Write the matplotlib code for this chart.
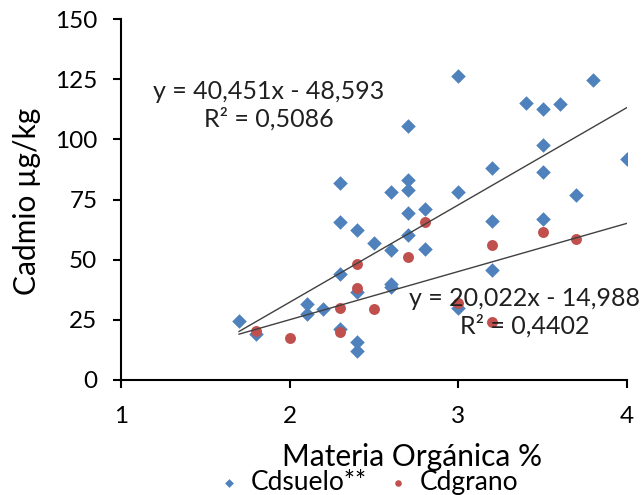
import matplotlib
matplotlib.use("Agg")
import matplotlib.pyplot as plt
import numpy as np

plt.rcParams['font.family'] = ['Lato', 'DejaVu Sans']

# Cdsuelo** (soil cadmium) vs organic matter
suelo_x = [1.7, 1.8, 2.1, 2.1, 2.2, 2.3, 2.3, 2.3, 2.3, 2.4, 2.4, 2.4, 2.4,
           2.5, 2.6, 2.6, 2.6, 2.6, 2.7, 2.7, 2.7, 2.7, 2.7, 2.8, 2.8,
           3.0, 3.0, 3.0, 3.2, 3.2, 3.2, 3.4, 3.5, 3.5, 3.5, 3.5, 3.6,
           3.7, 3.8, 4.0]
suelo_y = [24.7, 19.2, 31.7, 27.5, 29.4, 82.0, 65.5, 44.2, 21.2, 62.2, 36.4, 15.6, 12.1,
           57.0, 78.0, 54.2, 39.9, 38.8, 105.6, 83.0, 78.9, 69.2, 60.4, 71.1, 54.4,
           126.4, 78.3, 30.0, 88.2, 66.0, 45.5, 115.3, 112.8, 97.5, 86.4, 66.7, 114.6,
           76.8, 124.7, 91.7]

# Cdgrano (grain cadmium)
grano_x = [1.8, 2.0, 2.3, 2.3, 2.4, 2.4, 2.5, 2.7, 2.8, 3.0, 3.2, 3.2, 3.5, 3.7]
grano_y = [20.4, 17.4, 29.9, 19.9, 48.2, 38.2, 29.4, 51.1, 65.5, 32.2, 56.0, 23.9, 61.5, 58.6]

# trendline coefficients as printed on the chart
suelo_fit = (40.451, -48.593, 0.5086)
grano_fit = (20.022, -14.988, 0.4402)
fit_range = [1.7, 4.0]

x_ticks = [1, 2, 3, 4]
y_ticks = [0, 25, 50, 75, 100, 125, 150]

W, H = 644, 495
fig = plt.figure(figsize=(W / 100, H / 100), dpi=100)
ax = fig.add_axes([121 / W, 115 / H, 506 / W, 361 / H])

ax.scatter(suelo_x, suelo_y, marker='D', s=55, color='#4F81BD', zorder=3,
           linewidths=0, label='Cdsuelo**')
ax.scatter(grano_x, grano_y, marker='o', s=62, color='#C0504D', zorder=3,
           linewidths=0, label='Cdgrano')

xs = np.array(fit_range)
for m, b, _ in (suelo_fit, grano_fit):
    ax.plot(xs, m * xs + b, color='#404040', lw=1.0, zorder=4)

def eq_text(m, b, r2):
    fmt = lambda v: f"{v:.3f}".replace('.', ',')
    return f"y = {fmt(m)}x - {fmt(-b)}\nR² = {f'{r2:.4f}'.replace('.', ',')}"

ax.text(1.874, 114, eq_text(*suelo_fit), ha='center', va='center',
        fontsize=18, color='#202020', linespacing=1.2, zorder=5)
ax.text(3.394, 28, eq_text(*grano_fit), ha='center', va='center',
        fontsize=18, color='#202020', linespacing=1.2, zorder=5, clip_on=False)

ax.set_xlim(1, 4)
ax.set_ylim(0, 150)
ax.set_xticks(x_ticks)
ax.set_yticks(y_ticks)
ax.tick_params(axis='both', direction='out', length=6, width=1.5,
               labelsize=17.5, colors='black')
ax.tick_params(axis='y', pad=11)
ax.tick_params(axis='x', pad=13)
for side in ('top', 'right'):
    ax.spines[side].set_visible(False)
for side in ('left', 'bottom'):
    ax.spines[side].set_linewidth(1.5)

fig.text(412 / W, 1 - 466 / H, 'Materia Orgánica %', fontsize=21.5,
         ha='center', va='baseline')
fig.text(27 / W, 1 - 201 / H, 'Cadmio µg/kg', fontsize=21.5,
         ha='center', va='center', rotation=90)

fig.legend(loc='center', bbox_to_anchor=(0.572, 0.026), ncol=2, frameon=False,
           fontsize=19, markerscale=0.6, handlelength=0.8, handletextpad=0.4,
           columnspacing=0.8, borderpad=0)

fig.savefig('out.png', dpi=100)
